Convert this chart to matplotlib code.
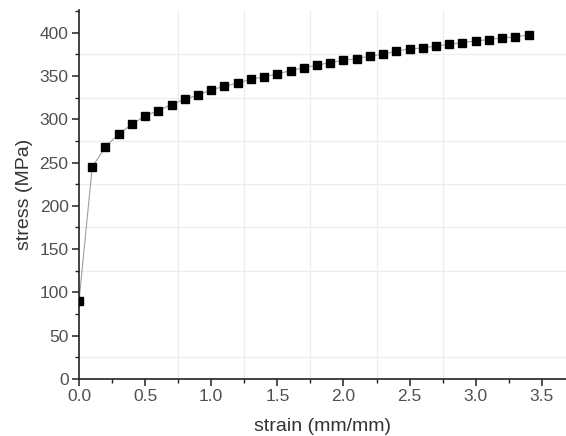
import numpy as np
import matplotlib
matplotlib.use("Agg")
import matplotlib.pyplot as plt
from matplotlib.ticker import MultipleLocator, FormatStrFormatter

plt.rcParams['font.family'] = ['Liberation Sans', 'DejaVu Sans']

# strain (mm/mm) and stress (MPa)
strain = [0.0, 0.1, 0.2, 0.3, 0.4, 0.5, 0.6, 0.7, 0.8, 0.9, 1.0, 1.1, 1.2,
          1.3, 1.4, 1.5, 1.6, 1.7, 1.8, 1.9, 2.0, 2.1, 2.2, 2.3, 2.4, 2.5,
          2.6, 2.7, 2.8, 2.9, 3.0, 3.1, 3.2, 3.3, 3.4]
stress = [90, 245, 268, 283, 294, 304, 310, 317, 323, 328, 334, 338, 342,
          346, 349, 352.5, 356, 359.5, 362.5, 365.5, 368, 370, 373, 375, 379, 381,
          382.5, 384.5, 386.5, 388.5, 390.5, 392, 394, 395, 397.5]

xgrid = [0.75, 1.25, 1.75, 2.25, 2.75]
ygrid = [25, 125, 175, 225, 275, 325, 375]

fig = plt.figure(figsize=(5.66, 4.36), dpi=100)
ax = fig.add_axes([0.1396, 0.1307, 0.862, 0.846])

for gx in xgrid:
    ax.axvline(gx, color='#ededed', lw=0.9, zorder=0)
for gy in ygrid:
    ax.axhline(gy, color='#ededed', lw=0.9, zorder=0)

ax.plot(strain, stress, color='#a0a0a0', lw=0.8, zorder=2)
ax.plot(strain, stress, ls='none', marker='s', ms=5.3, color='black', zorder=3)

ax.set_xlim(0, 3.69)
ax.set_ylim(0, 426)
ax.xaxis.set_major_locator(MultipleLocator(0.5))
ax.xaxis.set_minor_locator(MultipleLocator(0.25))
ax.yaxis.set_major_locator(MultipleLocator(50))
ax.yaxis.set_minor_locator(MultipleLocator(25))
ax.xaxis.set_major_formatter(FormatStrFormatter('%.1f'))

for s in ['top', 'right']:
    ax.spines[s].set_visible(False)
for s in ['left', 'bottom']:
    ax.spines[s].set_linewidth(1.2)
    ax.spines[s].set_color('#222222')

ax.tick_params(which='major', direction='out', length=5, width=1.1, pad=2.5,
               labelsize=12.5, labelcolor='#505050', color='#222222')
ax.tick_params(which='minor', direction='out', length=3, width=1.0, color='#222222')

ax.set_xlabel('strain (mm/mm)', fontsize=14, color='#333333', labelpad=9.5)
ax.set_ylabel('stress (MPa)', fontsize=14, color='#333333', labelpad=5)

fig.savefig('out.png', dpi=100)
